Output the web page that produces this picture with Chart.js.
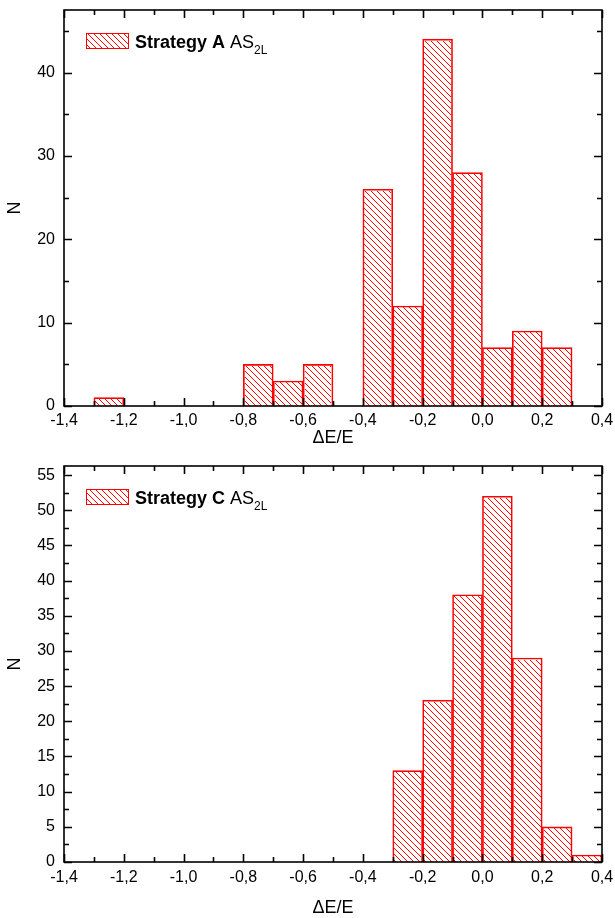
<!DOCTYPE html>
<html lang="en">
<head>
<meta charset="UTF-8">
<title>Strategy A / C histograms</title>
<script src="https://cdn.jsdelivr.net/npm/chart.js"></script>
<style>
    html, body { margin: 0; padding: 0; background: #fff; }
    #wrap { position: relative; width: 615px; height: 918px; }
    canvas { position: absolute; left: 0; }
    #chartA { top: 0; }
    #chartC { top: 460px; }
</style>
</head>
<body>
<div id="wrap">
    <canvas id="chartA" width="615" height="460"></canvas>
    <canvas id="chartC" width="615" height="458"></canvas>
</div>
<script>
const xTicks = [-1.4, -1.2, -1.0, -0.8, -0.6, -0.4, -0.2, 0.0, 0.2, 0.4];
const binWidth = 0.1;

// Strategy A: left edge of each bin and its count
const binStartsA = [-1.3, -0.8, -0.7, -0.6, -0.4, -0.3, -0.2, -0.1, 0.0, 0.1, 0.2];
const countsA = [1, 5, 3, 5, 26, 12, 44, 28, 7, 9, 7];
const yTicksA = [0, 10, 20, 30, 40];

// Strategy C
const binStartsC = [-0.3, -0.2, -0.1, 0.0, 0.1, 0.2, 0.3];
const countsC = [13, 23, 38, 52, 29, 5, 1];
const yTicksC = [0, 5, 10, 15, 20, 25, 30, 35, 40, 45, 50, 55];

const FONT = '"Liberation Sans", Arial, sans-serif';
const RED = "#ff0000";

// "\" hatching inside a rectangle, drawn as whole pixels on a 6px diagonal grid
function hatchRect(ctx, left, top, w, h) {
    const step = 6;
    const x0 = Math.ceil(left), x1 = Math.floor(left + w);
    const y0 = Math.ceil(top), y1 = Math.floor(top + h);
    ctx.save();
    ctx.fillStyle = RED;
    for (let py = y0; py < y1; py++) {
        let px = x0 + (((py - x0) % step) + step) % step;
        for (; px < x1; px += step) ctx.fillRect(px, py, 1, 1);
    }
    ctx.restore();
}

const midpoints = (arr, max) => {
    const out = [];
    const step = arr[1] - arr[0];
    for (let i = 0; i < arr.length; i++) {
        const m = arr[i] + step / 2;
        if (m < max) out.push(m);
    }
    return out;
};

const hatchBars = {
    id: "hatchBars",
    afterDatasetsDraw(chart) {
        const ctx = chart.ctx;
        chart.getDatasetMeta(0).data.forEach(bar => {
            const { x, y, base, width } = bar.getProps(["x", "y", "base", "width"], true);
            hatchRect(ctx, x - width / 2 + 1, Math.min(y, base) + 1, width - 2, Math.abs(base - y) - 1);
        });
    }
};

// frame on all four sides with inward ticks, plus legend with subscript
const frameAndLegend = {
    id: "frameAndLegend",
    afterDraw(chart, args, opts) {
        const { ctx, chartArea: a, scales: { x, y } } = chart;

        // legend
        const bx = a.left + 22, by = a.top + 23;
        hatchRect(ctx, bx, by, 43, 16);
        ctx.save();
        ctx.strokeStyle = RED;
        ctx.lineWidth = 1;
        ctx.strokeRect(bx + 0.5, by + 0.5, 42, 15);
        ctx.fillStyle = "#000";
        ctx.textBaseline = "alphabetic";
        const base = by + 15;
        let tx = bx + 49;
        ctx.font = "bold 18px " + FONT;
        ctx.fillText(opts.label, tx, base);
        tx += ctx.measureText(opts.label + " ").width;
        ctx.font = "18px " + FONT;
        ctx.fillText("AS", tx, base);
        tx += ctx.measureText("AS").width;
        ctx.font = "12px " + FONT;
        ctx.fillText("2L", tx, base + 6);

        ctx.strokeStyle = "#000";
        ctx.lineWidth = 1.6;
        ctx.strokeRect(a.left, a.top, a.right - a.left, a.bottom - a.top);

        const drawX = (vals, len) => vals.forEach(v => {
            const px = Math.round(x.getPixelForValue(v)) + 0.5;
            ctx.beginPath();
            ctx.moveTo(px, a.bottom); ctx.lineTo(px, a.bottom - len);
            ctx.moveTo(px, a.top); ctx.lineTo(px, a.top + len);
            ctx.stroke();
        });
        const drawY = (vals, len) => vals.forEach(v => {
            const py = Math.round(y.getPixelForValue(v)) + 0.5;
            ctx.beginPath();
            ctx.moveTo(a.left, py); ctx.lineTo(a.left + len, py);
            ctx.moveTo(a.right, py); ctx.lineTo(a.right - len, py);
            ctx.stroke();
        });
        drawX(xTicks, 8);
        drawX(midpoints(xTicks, x.max), 5);
        drawY(opts.yTicks, 8);
        drawY(midpoints(opts.yTicks, y.max), 5);
        ctx.restore();
    }
};

function makeChart(id, starts, counts, yMax, yTicks, label, layout) {
    return new Chart(document.getElementById(id), {
        type: "bar",
        data: {
            datasets: [{
                data: starts.map((s, i) => ({ x: s + binWidth / 2, y: counts[i] })),
                backgroundColor: "rgba(255,255,255,0)",
                borderColor: RED,
                borderWidth: 1,
                borderSkipped: "start",
                barPercentage: 1,
                categoryPercentage: 1,
            }],
        },
        options: {
            responsive: false,
            animation: false,
            layout: { padding: { top: layout.top, right: 13, left: 0, bottom: 0 } },
            plugins: {
                legend: { display: false },
                tooltip: { enabled: false },
                frameAndLegend: { yTicks, label },
            },
            scales: {
                x: {
                    type: "linear",
                    offset: false,
                    min: -1.4,
                    max: 0.4,
                    grid: { display: false, drawTicks: false },
                    border: { display: false },
                    afterBuildTicks: s => { s.ticks = xTicks.map(v => ({ value: v })); },
                    afterFit: s => { s.height = layout.xHeight; s.paddingLeft = 0; s.paddingRight = 0; },
                    ticks: {
                        color: "#000",
                        padding: layout.xPad,
                        maxRotation: 0,
                        autoSkip: false,
                        font: { family: FONT, size: 16 },
                        callback: v => (Math.abs(v) < 1e-9 ? 0 : v).toFixed(1).replace(".", ","),
                    },
                    title: {
                        display: true,
                        text: "ΔE/E",
                        color: "#000",
                        font: { family: FONT, size: 18 },
                        padding: { top: 0, bottom: layout.titlePad },
                    },
                },
                y: {
                    min: 0,
                    max: yMax,
                    grid: { display: false, drawTicks: false },
                    border: { display: false },
                    afterBuildTicks: s => { s.ticks = yTicks.map(v => ({ value: v })); },
                    afterFit: s => { s.width = 64; s.paddingTop = 0; s.paddingBottom = 0; },
                    ticks: {
                        color: "#000",
                        padding: 9,
                        font: { family: FONT, size: 16 },
                    },
                    title: {
                        display: true,
                        text: "N",
                        color: "#000",
                        font: { family: FONT, size: 18 },
                        padding: { top: 4, bottom: 0 },
                    },
                },
            },
        },
        plugins: [hatchBars, frameAndLegend],
    });
}

makeChart("chartA", binStartsA, countsA, 47.5, yTicksA, "Strategy A",
    { top: 10, xHeight: 54, xPad: 5, titlePad: 11 });
makeChart("chartC", binStartsC, countsC, 56.3, yTicksC, "Strategy C",
    { top: 6, xHeight: 56, xPad: 6, titlePad: -1 });
</script>
</body>
</html>
